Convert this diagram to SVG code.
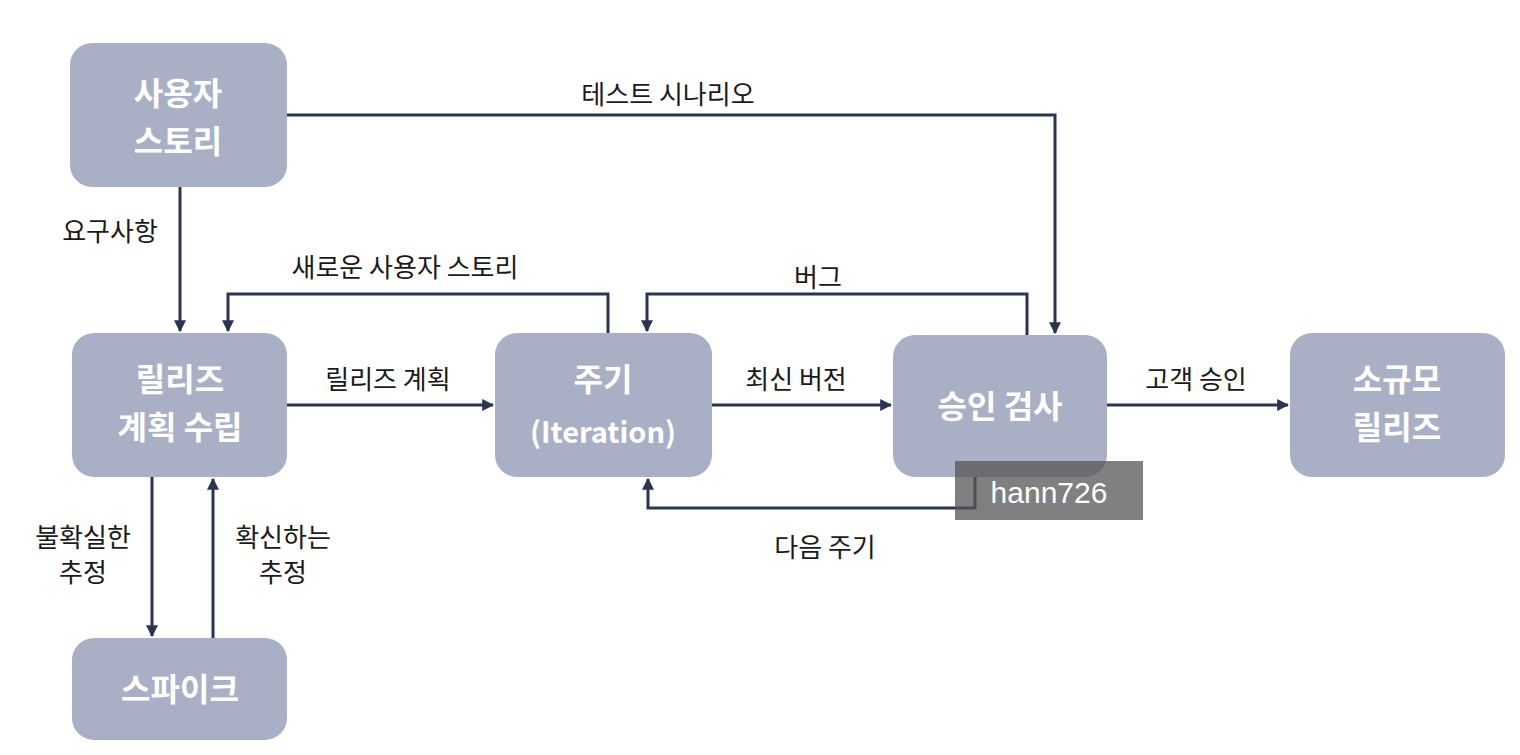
<svg xmlns="http://www.w3.org/2000/svg" width="1520" height="755" viewBox="0 0 1520 755">
<style>
.n{fill:#a9b0c6}
.nt{font-family:"Noto Sans CJK KR","Noto Sans",sans-serif;font-size:32px;font-weight:bold;fill:#fff;text-anchor:middle}
.l{font-family:"Noto Sans CJK KR","Noto Sans",sans-serif;font-size:26px;fill:#1a1a1a;text-anchor:middle}
.c{fill:none;stroke:#2b3552;stroke-width:3;marker-end:url(#a)}
</style>
<defs><marker id="a" viewBox="0 0 10 10" refX="9" refY="5" markerWidth="4" markerHeight="4" orient="auto"><path d="M0,0L10,5L0,10z" fill="#2b3552"/></marker></defs>
<rect width="1520" height="755" fill="#fff"/>
<g id="connectors">
<path class="c" d="M287,115H1055V333"/>
<path class="c" d="M180,187V331"/>
<path class="c" d="M608,333V294H228V331"/>
<path class="c" d="M1027,335V294H647V331"/>
<path class="c" d="M287,405H493"/>
<path class="c" d="M712,405H891"/>
<path class="c" d="M1107,405H1288"/>
<path class="c" d="M975,477V508H648V479"/>
<path class="c" d="M152,477V636"/>
<path class="c" d="M213,638V479"/>
</g>
<g id="labels">
<text class="l" x="668" y="104">테스트 시나리오</text>
<text class="l" x="110" y="241">요구사항</text>
<text class="l" x="405" y="277">새로운 사용자 스토리</text>
<text class="l" x="818" y="287">버그</text>
<text class="l" x="388" y="389">릴리즈 계획</text>
<text class="l" x="796" y="389">최신 버전</text>
<text class="l" x="1196" y="389">고객 승인</text>
<text class="l" x="825" y="557">다음 주기</text>
<text class="l" x="83" y="547">불확실한</text>
<text class="l" x="83" y="582">추정</text>
<text class="l" x="283" y="547">확신하는</text>
<text class="l" x="283" y="582">추정</text>
</g>
<g id="n1"><rect class="n" x="70" y="43" width="217" height="144" rx="22"/><text class="nt" x="178" y="105">사용자</text><text class="nt" x="178" y="153">스토리</text></g>
<g id="n2"><rect class="n" x="72" y="333" width="215" height="144" rx="22"/><text class="nt" x="180" y="391">릴리즈</text><text class="nt" x="180" y="439">계획 수립</text></g>
<g id="n3"><rect class="n" x="72" y="638" width="215" height="102" rx="22"/><text class="nt" x="180" y="701">스파이크</text></g>
<g id="n4"><rect class="n" x="495" y="333" width="217" height="144" rx="22"/><text class="nt" x="603" y="391">주기</text><text class="nt" x="603" y="443" style="font-size:29px">(Iteration)</text></g>
<g id="n5"><rect class="n" x="893" y="335" width="214" height="142" rx="22"/><text class="nt" x="1000" y="418">승인 검사</text></g>
<g id="n6"><rect class="n" x="1290" y="333" width="215" height="144" rx="22"/><text class="nt" x="1397" y="391">소규모</text><text class="nt" x="1397" y="439">릴리즈</text></g>
<g id="watermark"><rect x="955" y="461" width="188" height="59" fill="#555" fill-opacity="0.75"/><text x="1049" y="503" font-family="Liberation Sans,sans-serif" font-size="30" fill="#fff" text-anchor="middle">hann726</text></g>
</svg>
